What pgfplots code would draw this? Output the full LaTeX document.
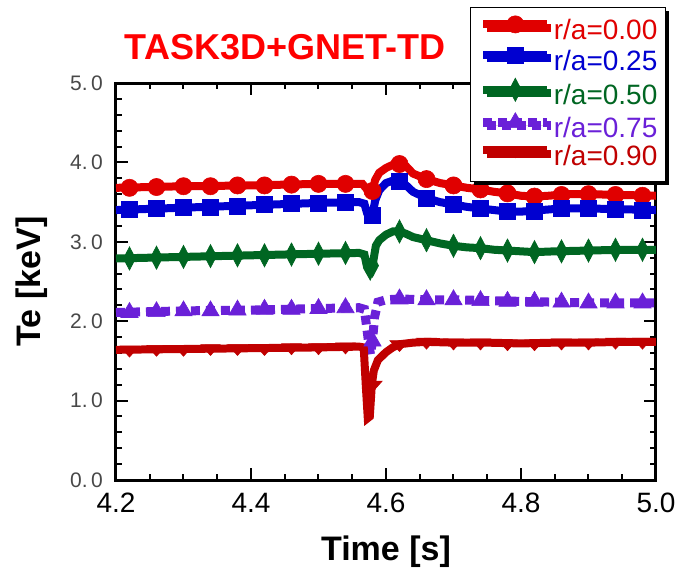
\documentclass[border=0pt]{standalone}
\usepackage{fontspec}
\setmainfont{Liberation Sans}
\usepackage{pgfplots}
\pgfplotsset{compat=1.18}
\usetikzlibrary{shadows}

\definecolor{c0}{RGB}{224,0,0}
\definecolor{c1}{RGB}{0,0,208}
\definecolor{c2}{RGB}{0,102,34}
\definecolor{c3}{RGB}{106,32,216}
\definecolor{c4}{RGB}{192,0,0}
\definecolor{ttl}{RGB}{255,0,0}
\definecolor{ytk}{RGB}{72,72,72}

\pgfplotsset{
  mylegend/.style={legend image code/.code={%
    \draw[mark repeat=2,mark phase=2,##1,sharp plot]
      plot coordinates {(0pt,4.5pt) (16pt,4.5pt) (32pt,4.5pt)};}},
  s0/.style={c0, line width=4pt, mark=*, mark size=4.3pt,
    mark options={solid, line width=0.3pt}},
  s1/.style={c1, line width=4pt, mark=square*, mark size=4pt,
    mark options={solid, line width=0.3pt}},
  s2/.style={c2, line width=4pt, mark=diamond*, mark size=5.8pt,
    mark options={solid, line width=0.3pt, xscale=0.7}},
  s3/.style={c3, line width=4.5pt, dash pattern=on 4.5pt off 3pt, mark=triangle*, mark size=5pt,
    mark options={solid, line width=0.3pt}},
  s4/.style={c4, line width=4pt, mark=triangle*, mark size=5.6pt,
    mark options={solid, line width=0.3pt, rotate=180, yscale=0.65}},
}

\begin{document}
\begin{tikzpicture}
\useasboundingbox (-58pt,-45pt) rectangle (281.5pt,240pt);
\begin{axis}[
    scale only axis,
    width=270pt, height=198.5pt,
    xmin=4.2, xmax=5.0,
    ymin=0, ymax=5,
    axis line style={line width=1.5pt},
    every tick/.style={black, line width=1pt},
    tick align=inside,
    major tick length=6pt,
    minor tick length=3pt,
    xtick={4.2,4.4,4.6,4.8,5.0},
    xticklabels={4.2,4.4,4.6,4.8,5.0},
    minor x tick num=3,
    ytick={0,1,2,3,4,5},
    yticklabels={0.\,0,1.\,0,2.\,0,3.\,0,4.\,0,5.\,0},
    minor y tick num=4,
    xticklabel style={font=\fontsize{14}{14}\selectfont, yshift=-3pt},
    yticklabel style={font=\fontsize{10.5}{10.5}\selectfont, text=ytk, xshift=-3pt},
    /pgf/number format/assume math mode=true,
    xlabel={\textbf{Time [s]}},
    ylabel={\textbf{Te [keV]}},
    every axis x label/.style={at={(axis description cs:0.5,-0.2015)}, anchor=base,
      font=\fontsize{17}{17}\selectfont},
    every axis y label/.style={at={(axis description cs:-0.1407,0.5)}, rotate=90, anchor=base,
      font=\fontsize{17}{17}\selectfont},
    title={\textbf{TASK3D+GNET-TD}},
    every axis title/.style={at={(axis description cs:0.313,1.058)}, anchor=base,
      font=\fontsize{18}{18}\selectfont, text=ttl},
    legend style={at={(axis description cs:0.656,1.191)}, anchor=north west,
      draw=black, line width=0.6pt, fill=white,
      font=\fontsize{14}{14}\selectfont,
      inner xsep=4pt, inner ysep=4pt,
      nodes={inner sep=0pt, text height=10pt, text depth=3.9pt},
      column sep=1pt,
      drop shadow={shadow xshift=1.6pt, shadow yshift=-1.6pt, fill=black, opacity=1}},
    legend cell align=left,
]

% r/a = 0.00
\addplot[s0, mark=none, forget plot] coordinates {
 (4.20,3.68) (4.30,3.70) (4.40,3.71) (4.50,3.73) (4.56,3.73) (4.565,3.73)
 (4.572,3.66) (4.576,3.62) (4.580,3.64) (4.584,3.78) (4.59,3.87) (4.60,3.93)
 (4.61,3.97) (4.62,3.98) (4.63,3.95) (4.64,3.86) (4.66,3.79) (4.68,3.74)
 (4.70,3.71) (4.72,3.68) (4.74,3.66) (4.76,3.63) (4.78,3.61) (4.80,3.58)
 (4.82,3.57) (4.84,3.58) (4.87,3.60) (4.90,3.60) (4.95,3.59) (5.00,3.58)
};
\addplot[s0, only marks, mylegend] coordinates {
 (4.22,3.68) (4.26,3.69) (4.30,3.70) (4.34,3.70) (4.38,3.71) (4.42,3.71)
 (4.46,3.72) (4.50,3.73) (4.54,3.73) (4.58,3.64) (4.62,3.98) (4.66,3.79)
 (4.70,3.71) (4.74,3.66) (4.78,3.61) (4.82,3.57) (4.86,3.59) (4.90,3.60)
 (4.94,3.59) (4.98,3.58)
};
\addlegendentry{\textcolor{c0}{r/a=0.00}}

% r/a = 0.25
\addplot[s1, mark=none, forget plot] coordinates {
 (4.20,3.40) (4.30,3.43) (4.40,3.46) (4.50,3.49) (4.56,3.50) (4.568,3.48)
 (4.572,3.36) (4.576,3.32) (4.580,3.34) (4.584,3.52) (4.59,3.65) (4.60,3.74)
 (4.61,3.77) (4.62,3.76) (4.63,3.71) (4.64,3.63) (4.66,3.55) (4.68,3.50)
 (4.70,3.47) (4.72,3.44) (4.74,3.42) (4.76,3.40) (4.78,3.38) (4.80,3.38)
 (4.83,3.40) (4.86,3.42) (4.90,3.42) (4.95,3.41) (5.00,3.40)
};
\addplot[s1, only marks, mylegend] coordinates {
 (4.22,3.41) (4.26,3.42) (4.30,3.43) (4.34,3.44) (4.38,3.45) (4.42,3.47)
 (4.46,3.48) (4.50,3.49) (4.54,3.50) (4.58,3.34) (4.62,3.76) (4.66,3.55)
 (4.70,3.47) (4.74,3.42) (4.78,3.38) (4.82,3.39) (4.86,3.42) (4.90,3.42)
 (4.94,3.41) (4.98,3.40)
};
\addlegendentry{\textcolor{c1}{r/a=0.25}}

% r/a = 0.50
\addplot[s2, mark=none, forget plot] coordinates {
 (4.20,2.79) (4.30,2.81) (4.40,2.83) (4.50,2.85) (4.56,2.86) (4.568,2.84)
 (4.572,2.68) (4.576,2.62) (4.580,2.70) (4.585,2.95) (4.59,3.02) (4.60,3.09)
 (4.61,3.13) (4.62,3.13) (4.63,3.10) (4.64,3.06) (4.66,3.02) (4.68,2.98)
 (4.70,2.95) (4.72,2.93) (4.74,2.92) (4.76,2.90) (4.78,2.89) (4.80,2.88)
 (4.82,2.87) (4.85,2.88) (4.90,2.89) (4.95,2.90) (5.00,2.90)
};
\addplot[s2, only marks, mylegend] coordinates {
 (4.22,2.79) (4.26,2.80) (4.30,2.81) (4.34,2.82) (4.38,2.83) (4.42,2.83)
 (4.46,2.84) (4.50,2.85) (4.54,2.86) (4.58,2.70) (4.62,3.13) (4.66,3.02)
 (4.70,2.95) (4.74,2.92) (4.78,2.89) (4.82,2.87) (4.86,2.88) (4.90,2.89)
 (4.94,2.90) (4.98,2.90)
};
\addlegendentry{\textcolor{c2}{r/a=0.50}}

% r/a = 0.75
\addplot[s3, mark=none, forget plot] coordinates {
 (4.20,2.11) (4.30,2.13) (4.40,2.14) (4.50,2.16) (4.56,2.17) (4.568,2.15)
 (4.571,1.95) (4.574,1.75) (4.577,1.58) (4.580,1.75) (4.583,2.05) (4.588,2.24)
 (4.60,2.27) (4.62,2.28) (4.66,2.27) (4.70,2.27) (4.75,2.26) (4.80,2.25)
 (4.85,2.24) (4.90,2.23) (4.95,2.23) (5.00,2.23)
};
\addplot[s3, only marks, mylegend] coordinates {
 (4.22,2.11) (4.26,2.12) (4.30,2.13) (4.34,2.13) (4.38,2.14) (4.42,2.15)
 (4.46,2.15) (4.50,2.16) (4.54,2.17) (4.58,1.75) (4.62,2.28) (4.66,2.27)
 (4.70,2.27) (4.74,2.26) (4.78,2.25) (4.82,2.25) (4.86,2.24) (4.90,2.23)
 (4.94,2.23) (4.98,2.23)
};
\addlegendentry{\textcolor{c3}{r/a=0.75}}

% r/a = 0.90
\addplot[s4, mark=none, forget plot] coordinates {
 (4.20,1.64) (4.30,1.65) (4.40,1.66) (4.50,1.67) (4.56,1.68) (4.567,1.67)
 (4.570,1.20) (4.573,0.78) (4.576,0.80) (4.579,1.20) (4.582,1.38) (4.588,1.51)
 (4.60,1.61) (4.61,1.67) (4.62,1.71) (4.64,1.73) (4.66,1.74) (4.70,1.73)
 (4.75,1.73) (4.80,1.72) (4.85,1.73) (4.90,1.73) (4.95,1.74) (5.00,1.74)
};
\addplot[s4, only marks, mylegend] coordinates {
 (4.22,1.64) (4.26,1.65) (4.30,1.65) (4.34,1.66) (4.38,1.66) (4.42,1.66)
 (4.46,1.67) (4.50,1.67) (4.54,1.68) (4.58,1.20) (4.62,1.71) (4.66,1.74)
 (4.70,1.73) (4.74,1.73) (4.78,1.72) (4.82,1.72) (4.86,1.73) (4.90,1.73)
 (4.94,1.74) (4.98,1.74)
};
\addlegendentry{\textcolor{c4}{r/a=0.90}}

\end{axis}
\end{tikzpicture}
\end{document}
